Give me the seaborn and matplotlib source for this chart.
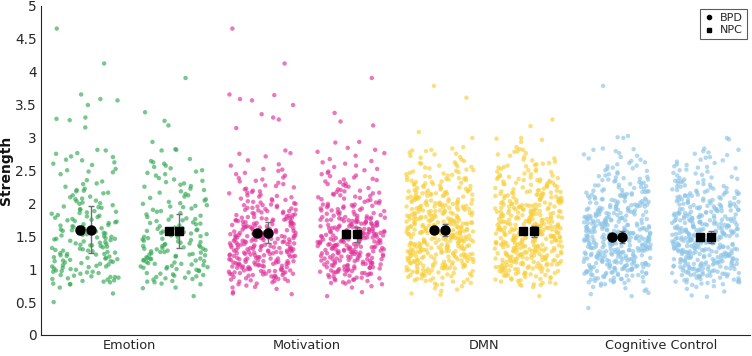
import numpy as np
import pandas as pd
import matplotlib
matplotlib.use("Agg")
import matplotlib.pyplot as plt
import seaborn as sns
from matplotlib.lines import Line2D
from matplotlib.ticker import FuncFormatter, MultipleLocator

categories = ["Emotion", "Motivation", "DMN", "Cognitive Control"]
groups = ["BPD", "NPC"]
colors = ["#33a853", "#e0309a", "#f8cf3a", "#8cc4e6"]

# summary markers
bpd_center = [1.60, 1.55, 1.59, 1.49]
bpd_sem = [0.06, 0.03, 0.02, 0.02]
bpd_low = [1.25, 1.40, 1.50, 1.40]
bpd_high = [1.95, 1.71, 1.68, 1.58]
npc_center = [1.58, 1.53, 1.58, 1.49]
npc_sem = [0.04, 0.02, 0.02, 0.02]
npc_low = [1.32, 1.41, 1.49, 1.40]
npc_high = [1.84, 1.64, 1.65, 1.58]

# strength values, in hundredths
emotion_bpd = """
465 412 365 358 356 349 330 328 326 315 281 280
276 275 271 270 266 265 262 260 258 252 250 248 247 244
235 233 230 229 225 222 220 219 218 216 215 212 210 209 207 206 204 203 201 200
199 197 195 193 191 190 188 186 185 184 182 181 180 194 187
179 178 176 175 174 172 171 170 168 167 166 165 163 162 161 160 173 164
159 158 157 156 155 154 153 152 150 149 148 147 146 145 144 143 142 141 140 151 157 146
139 138 137 136 135 134 133 132 131 130 129 128 127 126 125 124 123 122 121 120 136 128 123
119 118 117 116 115 114 113 112 111 110 109 108 107 106 105 104 103 102 101 100 117 112 104
99 98 97 96 95 94 93 91 90 89 88 87 86 85 84 83 82 81 80 96 88
78 77 77 72 63 50
"""

emotion_npc = """
390 338 325 318 293 282 281 280
267 264 262 260 257 255 250 248 246 244 242 253
238 236 234 232 230 228 226 225 222 220 218 216 214 212 210 208 206 204 202 200
199 197 196 194 192 190 188 187 185 183 181 180 195
179 177 176 174 173 171 170 168 166 165 163 162 161 160 175 169
159 158 156 155 154 152 151 150 149 148 146 145 144 142 141 140 157 153 147 143
139 138 137 136 135 134 133 132 131 130 129 128 127 126 125 124 123 122 121 120 135 131 126 122
119 118 117 116 115 114 113 112 111 110 109 108 107 106 105 104 103 102 101 100 116 113 108 103
99 98 97 95 94 93 92 90 89 88 87 86 85 84 82 81 80 91
78 77 72 71 59
"""

motivation_bpd = """
465 412 365 364 358 356 349 335 330 327 314
280 276 275 271 265 259 257 252 251 249 244 242 246
239 236 233 231 229 226 224 222 221 238 227 234
219 218 216 215 213 212 210 209 207 206 204 203 201 200 217 211 205 202
199 198 197 196 195 194 193 192 191 190 189 188 187 186 185 184 183 182 181 180 197 193 188 185 182 190
179 178 177 176 175 174 173 172 171 170 169 168 167 166 165 164 163 162 161 160
179 177 175 173 171 169 167 165 163 161 178 176 174 172 170 168 166 164 162 160
159 158 157 156 155 154 153 152 151 150 149 148 147 146 145 144 143 142 141 140
159 157 155 153 151 149 147 145 143 141 158 156 154 152 150 148 146 144 142 140
158 155 152 149 146 143 150 154 147 141
139 138 137 136 135 134 133 132 131 130 129 128 127 126 125 124 123 122 121 120
139 137 135 133 131 129 127 125 123 121 138 136 134 132 130 128 126 124 122 120
137 134 131 128 125 122 133 129 126 121
119 118 117 116 115 114 113 112 111 110 109 108 107 106 105 104 103 102 101 100
119 117 115 113 111 109 107 105 103 101 118 116 114 112 110 108 106 104 102 100
116 112 108 104 110 106
99 98 97 96 95 94 93 92 91 90 99 97 95 93 91 98 96 94 92 90 97 93
89 88 87 86 85 84 83 82 81 80 88 85 82
78 77 75 73 72 70 65 63 62
"""

motivation_npc = """
390 337 324 318 293 292 284 281
278 276 272 267 264 262 260 257 255 252 250 248 246 244 242 241
239 237 235 233 232 230 228 226 225 223 221 220 236 229
219 218 216 215 214 213 211 210 209 208 207 205 204 203 202 200 217 212 206 201
199 198 197 196 195 194 193 192 191 190 189 188 187 186 185 184 183 182 181 180 198 195 192 189 186 183 181 196
179 178 177 176 175 174 173 172 171 170 169 168 167 166 165 164 163 162 161 160
179 177 175 173 171 169 167 165 163 161 178 176 174 172 170 168 166 164 162 160 177 171 165 161 174 168
159 158 157 156 155 154 153 152 151 150 149 148 147 146 145 144 143 142 141 140
159 157 155 153 151 149 147 145 143 141 158 156 154 152 150 148 146 144 142 140
157 154 151 148 145 142 156 150 144 141 153 147
139 138 137 136 135 134 133 132 131 130 129 128 127 126 125 124 123 122 121 120
139 137 135 133 131 129 127 125 123 121 138 136 134 132 130 128 126 124 122 120
136 133 129 126 122 138 131 124 120 134
119 118 117 116 115 114 113 112 111 110 109 108 107 106 105 104 103 102 101 100
119 117 115 113 111 109 107 105 103 101 118 116 114 112 110 108 106 104 102 100 115 107
99 98 97 96 95 94 93 92 91 90 99 97 95 93 98 96 94 91
89 88 87 86 85 84 83 82 81 80 87 84
79 78 77 74 72 65 59
"""

dmn_bpd = """
378 360 308 299 285 283 281 280
279 275 274 270 269 266 264 262 261 260 272 277
259 257 256 254 253 251 250 248 247 245 244 242 241 240 255 249 246 243
239 238 237 236 235 234 233 232 231 230 229 228 227 226 225 224 223 222 221 220 238 235 232 229 226 223 221 237
219 218 217 216 215 214 213 212 211 210 209 208 207 206 205 204 203 202 201 200
219 217 215 213 211 209 207 205 203 201 218 216 214 212 210 208 206 204 202 200
199 198 197 196 195 194 193 192 191 190 189 188 187 186 185 184 183 182 181 180
199 198 197 196 195 194 193 192 191 190 189 188 187 186 185 184 183 182 181 180
199 197 195 193 191 189 187 185 183 181
179 178 177 176 175 174 173 172 171 170 169 168 167 166 165 164 163 162 161 160
179 178 177 176 175 174 173 172 171 170 169 168 167 166 165 164 163 162 161 160
179 177 175 173 171 169 167 165 163 161 176 170 164 160 172 168
159 158 157 156 155 154 153 152 151 150 149 148 147 146 145 144 143 142 141 140
159 158 157 156 155 154 153 152 151 150 149 148 147 146 145 144 143 142 141 140
159 157 155 153 151 149 147 145 143 141 158 154 150 146 142 156 148 144
139 138 137 136 135 134 133 132 131 130 129 128 127 126 125 124 123 122 121 120
139 138 137 136 135 134 133 132 131 130 129 128 127 126 125 124 123 122 121 120
139 137 135 133 131 129 127 125 123 121 136 130 124 120 134 126
119 118 117 116 115 114 113 112 111 110 109 108 107 106 105 104 103 102 101 100
119 118 117 116 115 114 113 112 111 110 109 108 107 106 105 104 103 102 101 100
119 117 115 113 111 109 107 105 103 101
99 98 97 96 95 94 93 92 91 90 99 97 95 93 91 98 96 94 92 90
89 88 87 86 85 84 83 82 81 80 86 83
79 78 77 76 74 71 69 67 63 61
"""

dmn_npc = """
327 317 299 298 296 293 285 282 281
279 278 276 274 272 270 268 266 265 263 261 260
259 258 257 255 254 252 251 249 248 247 245 244 243 242 241 240 256 250
239 238 237 236 235 234 233 232 231 230 229 228 227 226 225 224 223 222 221 220 239 237 235 233 231 229 227 225
219 218 217 216 215 214 213 212 211 210 209 208 207 206 205 204 203 202 201 200
219 218 217 216 215 214 213 212 211 210 209 208 207 206 205 204 203 202 201 200
199 198 197 196 195 194 193 192 191 190 189 188 187 186 185 184 183 182 181 180
199 198 197 196 195 194 193 192 191 190 189 188 187 186 185 184 183 182 181 180
199 197 195 193 191 189 187 185 183 181
179 178 177 176 175 174 173 172 171 170 169 168 167 166 165 164 163 162 161 160
179 178 177 176 175 174 173 172 171 170 169 168 167 166 165 164 163 162 161 160
179 177 175 173 171 169 167 165 163 161 176 172 168 164 162 160
159 158 157 156 155 154 153 152 151 150 149 148 147 146 145 144 143 142 141 140
159 158 157 156 155 154 153 152 151 150 149 148 147 146 145 144 143 142 141 140
159 157 155 153 151 149 147 145 143 141 158 154 150 146 142 156 148 144
139 138 137 136 135 134 133 132 131 130 129 128 127 126 125 124 123 122 121 120
139 138 137 136 135 134 133 132 131 130 129 128 127 126 125 124 123 122 121 120
139 137 135 133 131 129 127 125 123 121 138 132 126 122 134 128
119 118 117 116 115 114 113 112 111 110 109 108 107 106 105 104 103 102 101 100
119 118 117 116 115 114 113 112 111 110 109 108 107 106 105 104 103 102 101 100
119 117 115 113 111 109 107 105 103 101
99 98 97 96 95 94 93 92 91 90 99 97 95 93 91 98 96 94 92 90
89 88 87 86 85 84 83 82 81 80 87 84
79 78 77 77 76 75 73 59
"""

cc_bpd = """
378 302 300 299 283 282 281
279 276 274 272 270 268 266 264 262 261
259 257 256 254 252 250 249 247 245 244 242 241 240 253
239 238 237 236 235 234 233 232 231 230 229 228 227 226 225 224 223 222 221 220 236 227
219 218 217 216 215 214 213 212 211 210 209 208 207 206 205 204 203 202 201 200
219 217 215 213 211 209 207 205 203 201 218 212 206 202
199 198 197 196 195 194 193 192 191 190 189 188 187 186 185 184 183 182 181 180
199 198 197 196 195 194 193 192 191 190 189 188 187 186 185 184 183 182 181 180
197 190 185 182
179 178 177 176 175 174 173 172 171 170 169 168 167 166 165 164 163 162 161 160
179 178 177 176 175 174 173 172 171 170 169 168 167 166 165 164 163 162 161 160
179 177 175 173 171 169 167 165 163 161 176 170 164 160
159 158 157 156 155 154 153 152 151 150 149 148 147 146 145 144 143 142 141 140
159 158 157 156 155 154 153 152 151 150 149 148 147 146 145 144 143 142 141 140
159 158 157 156 155 154 153 152 151 150 149 148 147 146 145 144 143 142 141 140
139 138 137 136 135 134 133 132 131 130 129 128 127 126 125 124 123 122 121 120
139 138 137 136 135 134 133 132 131 130 129 128 127 126 125 124 123 122 121 120
139 138 137 136 135 134 133 132 131 130 129 128 127 126 125 124 123 122 121 120
119 118 117 116 115 114 113 112 111 110 109 108 107 106 105 104 103 102 101 100
119 118 117 116 115 114 113 112 111 110 109 108 107 106 105 104 103 102 101 100
119 117 115 113 111 109 107 105 103 101 116 110 106 102
99 98 97 96 95 94 93 92 91 90 99 98 97 96 95 94 93 92 91 90 98 95 93 91
89 88 87 86 85 84 83 82 81 80 88 86 85 83 82 80
79 78 77 75 73 71 69 67 64 62 59 41
"""

cc_npc = """
299 297 283 281
279 277 275 273 270 269 266 265 263 261
259 258 256 255 253 251 250 248 246 245 243 242 240 254
239 238 237 236 235 234 233 232 231 230 229 228 227 226 225 224 223 222 221 220 234 225
219 218 217 216 215 214 213 212 211 210 209 208 207 206 205 204 203 202 201 200
219 217 215 213 211 209 207 205 203 201 217 211 205 201
199 198 197 196 195 194 193 192 191 190 189 188 187 186 185 184 183 182 181 180
199 198 197 196 195 194 193 192 191 190 189 188 187 186 185 184 183 182 181 180
196 191 186 181
179 178 177 176 175 174 173 172 171 170 169 168 167 166 165 164 163 162 161 160
179 178 177 176 175 174 173 172 171 170 169 168 167 166 165 164 163 162 161 160
179 177 175 173 171 169 167 165 163 161 174 168 163 161
159 158 157 156 155 154 153 152 151 150 149 148 147 146 145 144 143 142 141 140
159 158 157 156 155 154 153 152 151 150 149 148 147 146 145 144 143 142 141 140
159 158 157 156 155 154 153 152 151 150 149 148 147 146 145 144 143 142 141 140
139 138 137 136 135 134 133 132 131 130 129 128 127 126 125 124 123 122 121 120
139 138 137 136 135 134 133 132 131 130 129 128 127 126 125 124 123 122 121 120
139 138 137 136 135 134 133 132 131 130 129 128 127 126 125 124 123 122 121 120
119 118 117 116 115 114 113 112 111 110 109 108 107 106 105 104 103 102 101 100
119 118 117 116 115 114 113 112 111 110 109 108 107 106 105 104 103 102 101 100
118 116 114 112 110 108 106 104 102 100 115 109 105 101
99 98 97 96 95 94 93 92 91 90 99 98 97 96 95 94 93 92 91 90 97 94 92 90
89 88 87 86 85 84 83 82 81 80 89 87 84 83 81 80
79 78 77 76 74 73 70 66 60 58
"""

values = {
    ("Emotion", "BPD"): emotion_bpd, ("Emotion", "NPC"): emotion_npc,
    ("Motivation", "BPD"): motivation_bpd, ("Motivation", "NPC"): motivation_npc,
    ("DMN", "BPD"): dmn_bpd, ("DMN", "NPC"): dmn_npc,
    ("Cognitive Control", "BPD"): cc_bpd, ("Cognitive Control", "NPC"): cc_npc,
}

frames = []
for i, cat in enumerate(categories):
    for g in groups:
        v = np.array(values[(cat, g)].split(), dtype=float) / 100.0
        pos = i + 1 + (-0.25 if g == "BPD" else 0.25)
        frames.append(pd.DataFrame({"network": cat, "group": g, "pos": pos, "strength": v}))
df = pd.concat(frames, ignore_index=True)

sns.set_style("white")
plt.rcParams["font.family"] = ["DejaVu Sans"]

fig = plt.figure(figsize=(7.52, 3.56), dpi=100)
ax = fig.add_axes([41 / 752, 21 / 356, 709 / 752, 329.5 / 356])

np.random.seed(7)
sns.stripplot(data=df, x="pos", y="strength", hue="network", hue_order=categories,
              palette=colors, native_scale=True, jitter=0.38, size=3.2, alpha=0.65,
              linewidth=0, legend=False, ax=ax, zorder=1)

for i in range(len(categories)):
    xb = i + 1 - 0.25
    xn = i + 1 + 0.25
    ax.errorbar(xb - 0.03, bpd_center[i], yerr=bpd_sem[i], fmt="o", color="k",
                ms=6.5, capsize=2, elinewidth=0.8, zorder=5)
    ax.errorbar(xb + 0.03, bpd_center[i],
                yerr=[[bpd_center[i] - bpd_low[i]], [bpd_high[i] - bpd_center[i]]],
                fmt="o", color="k", ecolor="#6e6e6e", ms=6.5, capsize=2, elinewidth=1.0, zorder=5)
    ax.errorbar(xn - 0.03, npc_center[i], yerr=npc_sem[i], fmt="s", color="k",
                ms=5.2, capsize=2, elinewidth=0.8, zorder=5)
    ax.errorbar(xn + 0.03, npc_center[i],
                yerr=[[npc_center[i] - npc_low[i]], [npc_high[i] - npc_center[i]]],
                fmt="s", color="k", ecolor="#6e6e6e", ms=5.2, capsize=2, elinewidth=1.0, zorder=5)

ax.set_xlim(0.5, 4.5)
ax.set_ylim(0, 5)
ax.set_xticks([1, 2, 3, 4])
ax.set_xticklabels(categories)
ax.yaxis.set_major_locator(MultipleLocator(0.5))
ax.yaxis.set_major_formatter(FuncFormatter(lambda v, p: f"{v:g}"))
ax.tick_params(axis="both", direction="in", length=4, width=0.8, colors="#262626", pad=3)
ax.tick_params(axis="y", labelsize=9.8)
ax.tick_params(axis="x", labelsize=9.3)
ax.set_xlabel("")
ax.set_ylabel("Strength", fontweight="bold", fontsize=10, color="#111111")
ax.yaxis.set_label_coords(-0.040, 0.5)
for side in ["top", "right"]:
    ax.spines[side].set_visible(False)
for side in ["left", "bottom"]:
    ax.spines[side].set_color("#262626")
    ax.spines[side].set_linewidth(0.8)

handles = [Line2D([], [], marker="o", color="k", ls="", ms=3),
           Line2D([], [], marker="s", color="k", ls="", ms=3)]
leg = ax.legend(handles, groups, loc="upper right", fontsize=8, frameon=True, fancybox=False,
                edgecolor="#333333", borderpad=0.35, handlelength=0.8, handletextpad=0.6,
                labelspacing=0.25, borderaxespad=0.3)
leg.get_frame().set_linewidth(0.8)

fig.savefig("out.png", dpi=100)
